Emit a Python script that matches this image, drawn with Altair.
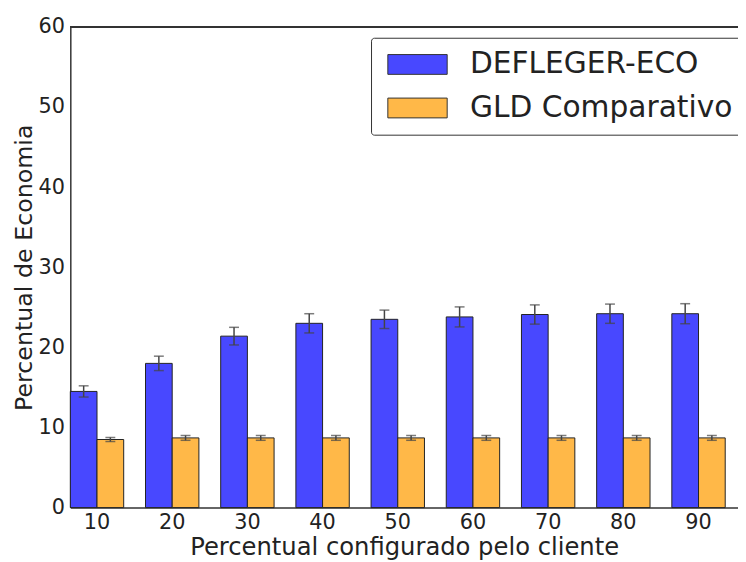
import altair as alt
import pandas as pd

categories = [10, 20, 30, 40, 50, 60, 70, 80, 90]
series_names = ["DEFLEGER-ECO", "GLD Comparativo"]
eco_values = [14.5, 18.0, 21.4, 23.0, 23.5, 23.8, 24.1, 24.2, 24.2]
eco_errors = [0.7, 0.9, 1.1, 1.2, 1.15, 1.25, 1.2, 1.2, 1.25]
gld_values = [8.5, 8.7, 8.7, 8.7, 8.7, 8.7, 8.7, 8.7, 8.7]
gld_errors = [0.25, 0.3, 0.3, 0.3, 0.3, 0.3, 0.3, 0.3, 0.3]
colors = ["#4848FF", "#FFB848"]

rows = []
for c, v, e in zip(categories, eco_values, eco_errors):
    rows.append({"cat": c, "serie": series_names[0], "val": v, "lo": v - e, "hi": v + e})
for c, v, e in zip(categories, gld_values, gld_errors):
    rows.append({"cat": c, "serie": series_names[1], "val": v, "lo": v - e, "hi": v + e})
df = pd.DataFrame(rows)

W, H = 675, 486
FONT = "DejaVu Sans"

xenc = alt.X("cat:O", title="Percentual configurado pelo cliente",
             scale=alt.Scale(paddingInner=0.29, paddingOuter=0.085, align=0),
             axis=alt.Axis(labelAngle=0, labelFontSize=21, titleFontSize=24.5,
                           labelPadding=4, titlePadding=3, ticks=False,
                           domainColor="#333333", domainWidth=1.5,
                           labelColor="#222222", titleColor="#222222",
                           labelFont=FONT, titleFont=FONT, titleFontWeight="normal"))
xoff = alt.XOffset("serie:N", sort=series_names, scale=alt.Scale(paddingInner=0, paddingOuter=0))

bars = alt.Chart(df).mark_bar(stroke="#222222", strokeWidth=1).encode(
    x=xenc,
    xOffset=xoff,
    y=alt.Y("val:Q", title="Percentual de Economia",
            scale=alt.Scale(domain=[0, 60], nice=False),
            axis=alt.Axis(values=[0, 10, 20, 30, 40, 50, 60], labelFontSize=21,
                          titleFontSize=24, ticks=False, grid=False, labelPadding=6,
                          titlePadding=2, domainColor="#333333", domainWidth=1.5,
                          labelColor="#222222", titleColor="#222222",
                          labelFont=FONT, titleFont=FONT, titleFontWeight="normal")),
    color=alt.Color("serie:N", sort=series_names,
                    scale=alt.Scale(domain=series_names, range=colors),
                    legend=alt.Legend(title=None, orient="none", legendX=304, legendY=11,
                                      symbolType="M-1,-1H5V1H-1Z", symbolSize=400,
                                      symbolStrokeColor="#333333", symbolStrokeWidth=1,
                                      symbolOpacity=1,
                                      labelFontSize=30, labelFont=FONT, labelColor="#222222",
                                      labelOffset=58, rowPadding=14,
                                      padding=12, strokeColor="#333333", fillColor="white",
                                      cornerRadius=3, labelLimit=400)),
)

err = alt.Chart(df).mark_rule(color="#444444", strokeWidth=1.5).encode(
    x="cat:O", xOffset=xoff, y="lo:Q", y2="hi:Q")
cap_hi = alt.Chart(df).mark_tick(color="#444444", thickness=1.5, size=10, orient="horizontal").encode(
    x="cat:O", xOffset=xoff, y="hi:Q")
cap_lo = alt.Chart(df).mark_tick(color="#444444", thickness=1.5, size=10, orient="horizontal").encode(
    x="cat:O", xOffset=xoff, y="lo:Q")

top = alt.Chart(df).mark_rule(color="#333333", strokeWidth=1.5).encode(
    x=alt.value(0), x2=alt.value(W), y=alt.value(0))

chart = alt.layer(bars, err, cap_hi, cap_lo, top).properties(
    width=W, height=H,
    autosize=alt.AutoSizeParams(type="none"),
    padding={"left": 63, "top": 16, "right": 0, "bottom": 60},
).configure_view(stroke=None)

chart.save("out.html", embed_options={"renderer": "svg", "actions": False})
